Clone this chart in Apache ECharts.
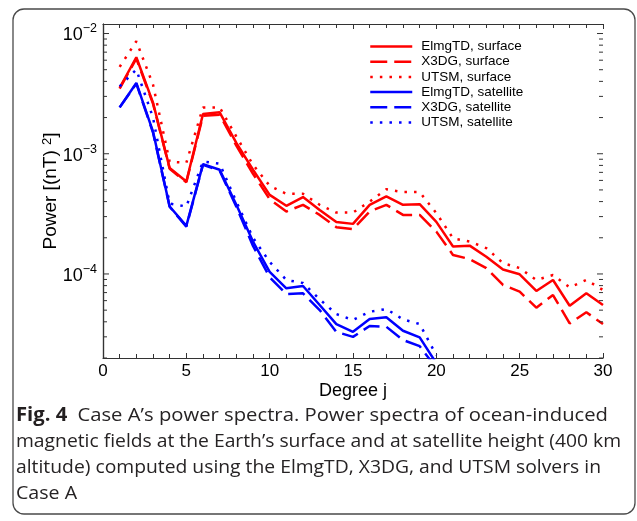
<!DOCTYPE html>
<html>
<head>
<meta charset="utf-8">
<script src="https://cdn.jsdelivr.net/npm/echarts@6/dist/echarts.min.js"></script>
<style>
html,body{margin:0;padding:0;background:#fff;}
#chart{width:637px;height:521px;}
</style>
</head>
<body>
<div id="chart"></div>
<script>
// ---- data ----
const degrees = [1,2,3,4,5,6,7,8,9,10,11,12,13,14,15,16,17,18,19,20,21,22,23,24,25,26,27,28,29,30];
const satDegrees = [1,2,3,4,5,6,7,8,9,10,11,12,13,14,15,16,17,18,19,20];
const surfElmgTD = [3.53e-3,6.35e-3,2.66e-3,7.60e-4,5.88e-4,2.14e-3,2.21e-3,1.23e-3,7.36e-4,4.55e-4,3.69e-4,4.36e-4,3.41e-4,2.70e-4,2.61e-4,3.76e-4,4.41e-4,3.76e-4,3.81e-4,2.71e-4,1.69e-4,1.72e-4,1.39e-4,1.09e-4,9.94e-5,7.22e-5,8.91e-5,5.44e-5,6.90e-5,5.52e-5];
const surfX3DG = [3.48e-3,6.19e-3,2.61e-3,7.50e-4,5.79e-4,2.07e-3,2.11e-3,1.17e-3,6.81e-4,4.19e-4,3.31e-4,3.76e-4,3.10e-4,2.45e-4,2.36e-4,3.31e-4,3.76e-4,3.10e-4,3.10e-4,2.25e-4,1.44e-4,1.33e-4,1.12e-4,8.10e-5,7.12e-5,5.24e-5,6.68e-5,3.88e-5,4.80e-5,3.83e-5];
const surfUTSM = [5.28e-3,8.63e-3,3.76e-3,8.58e-4,8.41e-4,2.43e-3,2.43e-3,1.39e-3,8.10e-4,5.41e-4,4.64e-4,4.64e-4,3.76e-4,3.24e-4,3.24e-4,4.00e-4,5.06e-4,4.80e-4,4.80e-4,3.21e-4,1.98e-4,1.86e-4,1.64e-4,1.23e-4,1.12e-4,8.91e-5,9.81e-5,7.75e-5,8.91e-5,7.36e-5];
const satElmgTD = [2.43e-3,3.88e-3,1.53e-3,3.64e-4,2.51e-4,8.20e-4,7.36e-4,3.76e-4,1.86e-4,1.04e-4,7.60e-5,7.94e-5,5.52e-5,3.83e-5,3.30e-5,4.22e-5,4.36e-5,3.37e-5,2.97e-5,1.81e-5];
const satX3DG = [2.43e-3,3.83e-3,1.50e-3,3.62e-4,2.47e-4,8.10e-4,7.23e-4,3.62e-4,1.71e-4,9.39e-5,6.81e-5,6.90e-5,5.01e-5,3.30e-5,3.00e-5,3.69e-5,3.64e-5,2.82e-5,2.51e-5,1.65e-5];
const satUTSM = [3.64e-3,5.01e-3,2.00e-3,3.85e-4,3.64e-4,8.63e-4,8.25e-4,4.00e-4,2.00e-4,1.26e-4,8.91e-5,8.41e-5,6.15e-5,4.64e-5,4.14e-5,4.85e-5,5.11e-5,4.19e-5,3.83e-5,2.11e-5];
const seriesNames = ['ElmgTD, surface','X3DG, surface','UTSM, surface','ElmgTD, satellite','X3DG, satellite','UTSM, satellite'];
const xTickLabels = ['0','5','10','15','20','25','30'];
const yMajorExponents = [-4,-3,-2];
const yMinorMultipliers = [2,3,4,5,6,7,8,9];
const captionBold = 'Fig.\u00a04';
const captionLines = [
  '\u2002Case A\u2019s power spectra. Power spectra of ocean-induced',
  'magnetic fields at the Earth\u2019s surface and at satellite height (400 km',
  'altitude) computed using the ElmgTD, X3DG, and UTSM solvers in',
  'Case A'
];

// ---- setup ----
const X_MIN = 0, X_MAX = 30, Y_MIN = 2e-5, Y_MAX = 1.2e-2;
const RED = '#ff0000', BLUE = '#0000ff';
const FONT = '"Liberation Sans", Arial, sans-serif';
const AXIS_COLOR = '#333';

const yTicks = [];
[-5,-4,-3,-2].forEach(e => {
  yTicks.push({v: Math.pow(10, e), major: true});
  yMinorMultipliers.forEach(m => yTicks.push({v: m * Math.pow(10, e), major: false}));
});
const yTicksInRange = yTicks.filter(t => t.v >= Y_MIN * 0.999 && t.v <= Y_MAX);

function pairs(xs, ys) { return ys.map((y, i) => [xs[i], y]); }

const solidStyle = (c) => ({color: c, width: 2.5, type: 'solid'});
const dashedStyle = (c) => ({color: c, width: 2.5, type: [17, 7]});
const dottedStyle = (c) => ({color: c, width: 2.5, type: [2.5, 7.1], cap: 'butt'});

function lineSeries(name, data, ls) {
  return {
    name: name, type: 'line', data: data, symbol: 'none', showSymbol: false,
    lineStyle: ls, itemStyle: {color: ls.color}, clip: true, z: 3,
    emphasis: {disabled: true}, animation: false
  };
}

// caption: per-line horizontal scale to mimic the narrow original font
const CAP_FONT_SIZE = 19;
const CAP_FONT = '"Open Sans", "Noto Sans", sans-serif';
const CAP_X = 16;
const capEnds = [608, 621, 601, null];
const mctx = document.createElement('canvas').getContext('2d');
function measure(t, bold) {
  mctx.font = (bold ? 'bold ' : '') + CAP_FONT_SIZE + 'px ' + CAP_FONT;
  return mctx.measureText(t).width;
}
const capWidths = captionLines.map((t, i) => measure(t, false) + (i === 0 ? measure(captionBold, true) : 0));
const capScales = capWidths.map((w, i) => capEnds[i] ? (capEnds[i] - CAP_X) / w : null);
const avgScale = (capScales[0] + capScales[1] + capScales[2]) / 3;

const capY = [416, 442, 467.5, 494];
const graphics = [
  {type: 'rect', shape: {x: 13, y: 9, width: 622, height: 505, r: 11},
   style: {fill: 'none', stroke: '#4a4a4a', lineWidth: 1.3}, z: -10, silent: true}
];
captionLines.forEach((t, i) => {
  graphics.push({
    type: 'text', x: CAP_X, y: capY[i], scaleX: capScales[i] || avgScale, silent: true,
    style: {
      text: (i === 0 ? '{b|' + captionBold + '}' : '') + t,
      fontSize: CAP_FONT_SIZE, fontFamily: CAP_FONT, fill: '#262324',
      verticalAlign: 'middle', align: 'left',
      rich: {b: {fontSize: CAP_FONT_SIZE, fontFamily: CAP_FONT, fontWeight: 'bold', fill: '#231f20'}}
    }
  });
});

const chart = echarts.init(document.getElementById('chart'), null, {renderer: 'canvas'});
const option = {
  animation: false,
  backgroundColor: '#fff',
  grid: {left: 103, right: 34, top: 24, bottom: 163, containLabel: false},
  legend: {
    data: seriesNames, orient: 'vertical', left: 369, top: 39.5, padding: 0,
    itemWidth: 42, itemHeight: 14, itemGap: 1.2,
    lineStyle: {width: 2.5},
    itemStyle: {opacity: 0},
    textStyle: {fontSize: 13.5, fontFamily: FONT, color: '#000', padding: [0, 0, 0, 4]},
    selectedMode: false
  },
  xAxis: [
    {
      type: 'value', min: X_MIN, max: X_MAX, interval: 5, position: 'bottom',
      name: 'Degree j', nameLocation: 'middle', nameGap: 24, nameMoveOverlap: false,
      nameTextStyle: {fontSize: 18, fontFamily: FONT, color: '#000'},
      axisLine: {show: true, lineStyle: {color: AXIS_COLOR, width: 1.2}},
      axisTick: {show: true, inside: true, length: 5, lineStyle: {color: AXIS_COLOR}},
      minorTick: {show: true, splitNumber: 5, length: 4, lineStyle: {color: AXIS_COLOR}},
      axisLabel: {fontSize: 17, fontFamily: FONT, color: '#000', margin: 5,
                  formatter: (v) => xTickLabels.includes(String(v)) ? String(v) : ''},
      splitLine: {show: false}
    },
    {
      type: 'value', min: X_MIN, max: X_MAX, interval: 5, position: 'top',
      axisLine: {show: true, lineStyle: {color: AXIS_COLOR, width: 1.2}},
      axisTick: {show: true, inside: true, length: 5, lineStyle: {color: AXIS_COLOR}},
      minorTick: {show: true, splitNumber: 5, length: 4, lineStyle: {color: AXIS_COLOR}},
      axisLabel: {show: false}, splitLine: {show: false}
    }
  ],
  yAxis: [
    {
      type: 'log', logBase: 10, min: Y_MIN, max: Y_MAX, position: 'left',
      name: '{m|Power [(nT) }{s|2}{m|]}', nameLocation: 'middle', nameGap: 43, nameMoveOverlap: false,
      nameTextStyle: {
        rich: {
          m: {fontSize: 19, fontFamily: FONT, color: '#000'},
          s: {fontSize: 13, fontFamily: FONT, color: '#000', verticalAlign: 'top'}
        }
      },
      axisLine: {show: true, lineStyle: {color: AXIS_COLOR, width: 1.2}},
      axisTick: {show: false},
      axisLabel: {
        margin: 6,
        formatter: function (v) {
          const e = Math.round(Math.log10(v));
          if (!yMajorExponents.includes(e) || Math.abs(v / Math.pow(10, e) - 1) > 1e-6) return '';
          return '{b|10}{s|\u2212' + (-e) + '}';
        },
        rich: {
          b: {fontSize: 18, fontFamily: FONT, color: '#000', padding: [4, 0, 0, 0]},
          s: {fontSize: 12.5, fontFamily: FONT, color: '#000', verticalAlign: 'top'}
        }
      },
      splitLine: {show: false}
    },
    {
      type: 'log', logBase: 10, min: Y_MIN, max: Y_MAX, position: 'right',
      axisLine: {show: true, lineStyle: {color: AXIS_COLOR, width: 1.2}},
      axisTick: {show: false}, axisLabel: {show: false}, splitLine: {show: false}
    }
  ],
  graphic: graphics,
  series: [
    lineSeries(seriesNames[0], pairs(degrees, surfElmgTD), solidStyle(RED)),
    lineSeries(seriesNames[1], pairs(degrees, surfX3DG), dashedStyle(RED)),
    lineSeries(seriesNames[2], pairs(degrees, surfUTSM), dottedStyle(RED)),
    lineSeries(seriesNames[3], pairs(satDegrees, satElmgTD), solidStyle(BLUE)),
    lineSeries(seriesNames[4], pairs(satDegrees, satX3DG), dashedStyle(BLUE)),
    lineSeries(seriesNames[5], pairs(satDegrees, satUTSM), dottedStyle(BLUE)),
    {
      type: 'custom', name: 'yticks', xAxisIndex: 0, yAxisIndex: 0, silent: true, clip: false, z: 4,
      data: yTicksInRange.map(t => [X_MIN, t.v, t.major ? 1 : 0]),
      encode: {x: 0, y: 1},
      renderItem: function (params, api) {
        const v = api.value(1);
        const major = api.value(2) === 1;
        const len = major ? 6 : 4;
        const pL = api.coord([X_MIN, v]);
        const pR = api.coord([X_MAX, v]);
        const st = {stroke: AXIS_COLOR, lineWidth: 1};
        return {type: 'group', children: [
          {type: 'line', shape: {x1: pL[0], y1: pL[1], x2: pL[0] + len, y2: pL[1]}, style: st},
          {type: 'line', shape: {x1: pR[0] - len, y1: pR[1], x2: pR[0], y2: pR[1]}, style: st}
        ]};
      }
    }
  ]
};
chart.setOption(option);
</script>
</body>
</html>
